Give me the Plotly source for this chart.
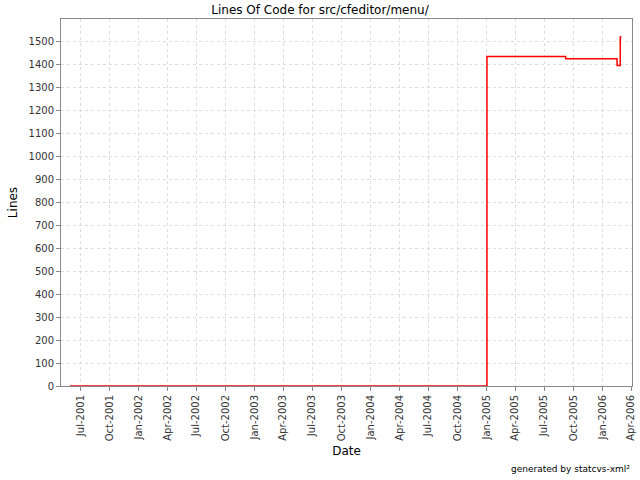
import plotly.graph_objects as go

dates = ["2001-05-29", "2005-01-02", "2005-09-07", "2006-02-16", "2006-02-26", "2006-03-02"]
lines = [0, 1436, 1427, 1397, 1522, 1522]

tick_vals = ["2001-07-01", "2001-10-01", "2002-01-01", "2002-04-01", "2002-07-01", "2002-10-01",
             "2003-01-01", "2003-04-01", "2003-07-01", "2003-10-01", "2004-01-01", "2004-04-01",
             "2004-07-01", "2004-10-01", "2005-01-01", "2005-04-01", "2005-07-01", "2005-10-01",
             "2006-01-01", "2006-04-01"]
tick_text = ["Jul-2001", "Oct-2001", "Jan-2002", "Apr-2002", "Jul-2002", "Oct-2002",
             "Jan-2003", "Apr-2003", "Jul-2003", "Oct-2003", "Jan-2004", "Apr-2004",
             "Jul-2004", "Oct-2004", "Jan-2005", "Apr-2005", "Jul-2005", "Oct-2005",
             "Jan-2006", "Apr-2006"]

fig = go.Figure()
fig.add_trace(go.Scatter(x=dates, y=lines, mode="lines", line=dict(color="#ff0000", width=1.5, shape="hv"),
                         showlegend=False, cliponaxis=False))

font = "DejaVu Sans"
fig.update_layout(
    width=640, height=480,
    margin=dict(l=61, r=8, t=19, b=94, autoexpand=False),
    paper_bgcolor="white", plot_bgcolor="white",
    title=dict(text="Lines Of Code for src/cfeditor/menu/", x=0.5, xanchor="center", y=0.979, yanchor="middle",
               yref="container", font=dict(family=font, size=12, color="#000000"), automargin=False),
    font=dict(family=font, size=10, color="#000000"),
    xaxis=dict(
        type="date", range=["2001-05-01", "2006-04-04"], automargin=False, layer="below traces",
        tickvals=tick_vals, ticktext=tick_text, tickangle=-90,
        showgrid=True, gridcolor="#dddddd", griddash="3px,3px", gridwidth=1,
        showline=True, linecolor="#888888", mirror=True, linewidth=1,
        ticks="outside", ticklen=4, tickcolor="#888888",
        zeroline=False,
        title=dict(text="Date", font=dict(family=font, size=12), standoff=6),
        tickfont=dict(family=font, size=10, color="#333333"),
    ),
    yaxis=dict(
        range=[0, 1600], tickvals=list(range(0, 1501, 100)), automargin=False, layer="below traces",
        showgrid=True, gridcolor="#dddddd", griddash="3px,3px", gridwidth=1,
        showline=True, linecolor="#888888", mirror=True, linewidth=1,
        ticks="outside", ticklen=4, tickcolor="#888888",
        zeroline=False,
        title=dict(text="Lines", font=dict(family=font, size=12), standoff=8),
        tickfont=dict(family=font, size=10, color="#333333"),
    ),
    annotations=[dict(text="generated by statcvs-xml²", xref="paper", yref="paper", x=1.0, y=-0.226,
                      xanchor="right", yanchor="middle", showarrow=False,
                      font=dict(family=font, size=9, color="#000000"))],
)

fig.write_html("out.html", config={"displayModeBar": False},
               post_script="document.body.style.margin='0';document.body.style.padding='0';")
